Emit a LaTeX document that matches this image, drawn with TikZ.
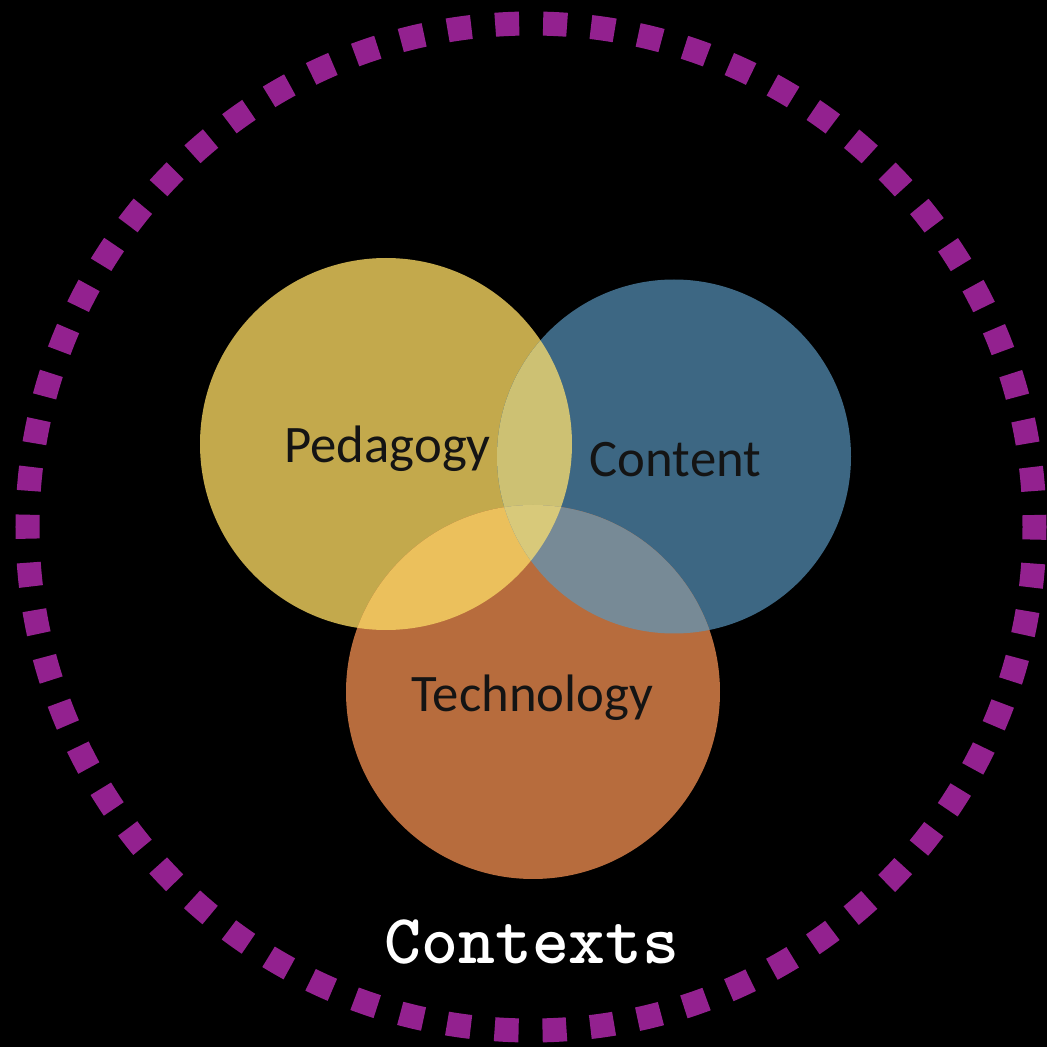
\documentclass[tikz,border=0pt]{standalone}
\usepackage{fontspec}
\newfontfamily\circlefont{Carlito}
\definecolor{contextpurple}{HTML}{93218F}
\definecolor{pedcol}{HTML}{C3A94C}
\definecolor{concol}{HTML}{3D6783}
\definecolor{teccol}{HTML}{B76C3D}
\definecolor{pedconcol}{HTML}{CDC173}
\definecolor{pedteccol}{HTML}{EBC05C}
\definecolor{conteccol}{HTML}{778A96}
\definecolor{allcol}{HTML}{D8C97A}
\definecolor{labelcol}{HTML}{141414}
\tikzset{
  circlelabel/.style={anchor=base, text=labelcol, inner sep=0pt,
    font=\circlefont\fontsize{15}{18}\selectfont},
  contextlabel/.style={anchor=base, text=white, inner sep=0pt,
    font=\ttfamily\bfseries\fontsize{20}{24}\selectfont}
}
\begin{document}
\begin{tikzpicture}
        \fill[black] (0,0) rectangle (10.47,10.47);
        \draw[contextpurple, line width=0.24cm, dash pattern=on 0.24cm off 0.2393cm, dash phase=0.12cm] (5.31,5.20) circle (5.035);

        \fill[pedcol] (3.86,6.03) circle (1.86);
        \fill[concol] (6.74,5.905) circle (1.77);
        \fill[teccol] (5.33,3.55) circle (1.87);
        \begin{scope}
            \clip (3.86,6.03) circle (1.86);
            \fill[pedconcol] (6.74,5.905) circle (1.77);
            \fill[pedteccol] (5.33,3.55) circle (1.87);
        \end{scope}
        \begin{scope}
            \clip (6.74,5.905) circle (1.77);
            \fill[conteccol] (5.33,3.55) circle (1.87);
            \clip (3.86,6.03) circle (1.86);
            \fill[allcol] (5.33,3.55) circle (1.87);
        \end{scope}

        \node[circlelabel] (pedagogy) at (3.875,5.84) {Pedagogy};
        \node[circlelabel] (content) at (6.755,5.70) {Content};
        \node[circlelabel] (technology) at (5.325,3.35) {Technology};
        \node[contextlabel] (contexts) at (5.32,0.84) {Contexts};
    \end{tikzpicture}
\end{document}
